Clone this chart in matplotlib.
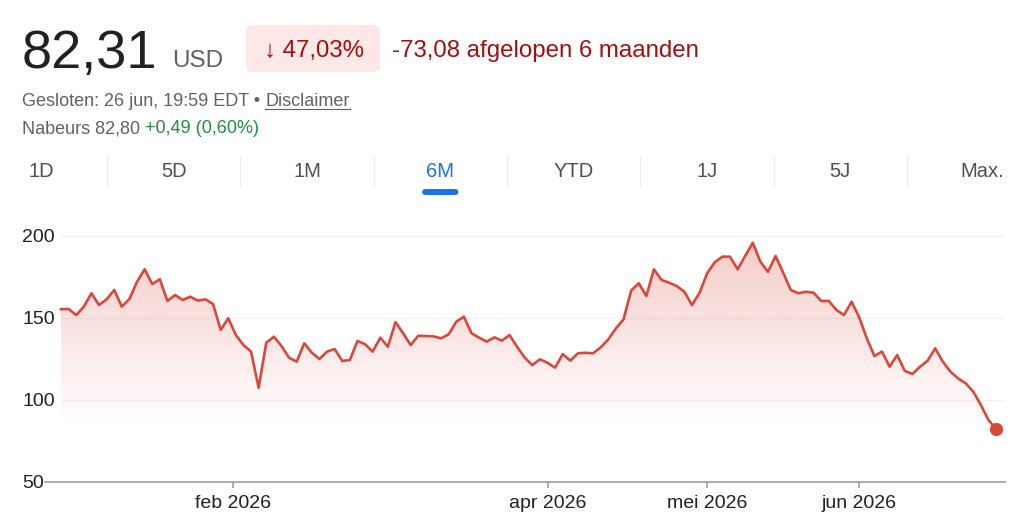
import numpy as np
import pandas as pd
import matplotlib
matplotlib.use("Agg")
import matplotlib.pyplot as plt
from matplotlib.patches import FancyBboxPatch

plt.rcParams['font.family'] = ['Liberation Sans', 'DejaVu Sans']

# koersdata, 6 maanden (handelsdagen)
holidays = ['2026-01-01', '2026-01-19', '2026-02-16', '2026-04-03', '2026-05-25', '2026-06-19']
dates = pd.bdate_range('2025-12-29', '2026-06-26', freq='C', holidays=holidays)
price = [155.4, 155.5, 151.8, 156.9, 165.1, 157.9, 161.4, 167.1, 156.9, 161.6,
         172.1, 179.7, 170.7, 173.6, 160.4, 164.0, 161.0, 163.0, 160.6, 161.4,
         158.5, 142.7, 149.8, 139.6, 133.5, 129.5, 107.5, 134.9, 138.6, 132.9,
         125.8, 123.4, 134.6, 128.8, 125.0, 129.5, 131.1, 123.8, 124.4, 136.0,
         134.0, 129.5, 138.0, 132.5, 147.5, 140.7, 133.5, 139.2, 139.0, 138.8,
         137.6, 140.1, 147.8, 150.8, 140.7, 138.0, 135.6, 138.2, 136.2, 139.6,
         132.5, 125.8, 121.3, 124.8, 122.7, 119.7, 128.0, 124.0, 128.5, 128.8,
         128.5, 132.1, 137.0, 143.7, 149.2, 166.7, 171.2, 163.4, 179.7, 173.2,
         171.5, 169.5, 166.0, 157.9, 165.4, 177.3, 184.0, 187.4, 187.4, 179.7,
         187.8, 195.9, 184.3, 178.2, 187.8, 177.6, 167.1, 165.1, 166.0, 165.4,
         160.4, 160.4, 154.9, 151.8, 159.9, 150.4, 137.6, 126.8, 129.5, 120.3,
         127.4, 117.7, 115.9, 120.3, 124.0, 131.5, 123.4, 117.3, 113.2, 110.2,
         105.1, 97.0, 87.8, 82.31]
month_ticks = ['2026-02-01', '2026-04-01', '2026-05-01', '2026-06-01']
month_labels = ['feb 2026', 'apr 2026', 'mei 2026', 'jun 2026']
y_ticks = [50, 100, 150, 200]
tabs = ['1D', '5D', '1M', '6M', 'YTD', '1J', '5J', 'Max.']
active_tab = '6M'

RED = '#d9483b'
W, H = 1024, 530


def px(x, y):  # pixel (van linksboven) -> figuurcoordinaten
    return x / W, 1 - y / H


fig = plt.figure(figsize=(W / 100, H / 100), dpi=100)
fig.patch.set_facecolor('white')

# ---- kop ----
fig.text(*px(22, 68), '82,31', fontsize=39, color='#202124', va='baseline')
fig.text(*px(172, 67), 'USD', fontsize=17.5, color='#5f6368', va='baseline')
box = FancyBboxPatch(px(246, 72), 134 / W, 47 / H, boxstyle='round,pad=0,rounding_size=0.009',
                     transform=fig.transFigure, facecolor='#fce8e6', edgecolor='none')
fig.patches.append(box)
fig.text(*px(314, 57), '\u2193 47,03%', fontsize=17.3, color='#a50e0e', va='baseline', ha='center')
fig.text(*px(392, 57), '-73,08 afgelopen 6 maanden', fontsize=17.3, color='#a50e0e', va='baseline')

renderer = fig.canvas.get_renderer()
t1 = fig.text(*px(22, 106), 'Gesloten: 26 jun, 19:59 EDT \u2022 ', fontsize=13, color='#5f6368', va='baseline')
bb = t1.get_window_extent(renderer)
t2 = fig.text(bb.x1 / W, 1 - 106 / H, 'Disclaimer', fontsize=13, color='#5f6368', va='baseline')
bb2 = t2.get_window_extent(renderer)
fig.add_artist(plt.Line2D([bb2.x0 / W, bb2.x1 / W], [1 - 109 / H, 1 - 109 / H],
                          color='#5f6368', lw=0.8, transform=fig.transFigure))
t3 = fig.text(*px(22, 133), 'Nabeurs 82,80 ', fontsize=13, color='#5f6368', va='baseline')
bb3 = t3.get_window_extent(renderer)
fig.text(bb3.x1 / W, 1 - 133 / H, '+0,49 (0,60%)', fontsize=13, color='#1e8e3e', va='baseline')

# ---- tabs ----
seps = [107 + 133.3 * i for i in range(len(tabs) - 1)]
for s in seps:
    fig.add_artist(plt.Line2D([s / W, s / W], [1 - 156 / H, 1 - 186 / H],
                              color='#ececec', lw=0.9, transform=fig.transFigure))
for i, name in enumerate(tabs):
    col = '#1a73e8' if name == active_tab else '#4d5156'
    if i == 0:
        fig.text(*px(28, 172), name, fontsize=14.5, color=col, va='center', ha='left')
    elif i == len(tabs) - 1:
        fig.text(*px(1004, 172), name, fontsize=14.5, color=col, va='center', ha='right')
    else:
        cx = (seps[i - 1] + seps[i]) / 2
        fig.text(*px(cx, 172), name, fontsize=14.5, color=col, va='center', ha='center')
        if name == active_tab:
            ul = FancyBboxPatch(px(cx - 18, 195), 36 / W, 6 / H,
                                boxstyle='round,pad=0,rounding_size=0.004',
                                transform=fig.transFigure, facecolor='#1a73e8', edgecolor='none')
            fig.patches.append(ul)

# ---- grafiek ----
idx = np.arange(len(price))
ax = fig.add_axes([45 / W, 48 / H, 960 / W, 254.2 / H])
ax.set_xlim(-2.105, 124.18)
ax.set_ylim(50, 205)

ax.hlines(y_ticks[1:], idx[0], 124.18, color='#f1f1f1', lw=1, zorder=0.5)

poly = ax.fill_between(idx, price, 50, facecolor='none', edgecolor='none')
yv = np.linspace(50, 205, 300)
alpha = 0.28 * np.clip((yv - 85) / (196 - 85), 0, 1)
img = np.zeros((300, 1, 4))
img[..., :3] = matplotlib.colors.to_rgb(RED)
img[:, 0, 3] = alpha
im = ax.imshow(img, extent=[idx[0], idx[-1], 50, 205], origin='lower', aspect='auto', zorder=1)
im.set_clip_path(poly.get_paths()[0], transform=ax.transData)

ax.plot(idx, price, color=RED, lw=1.9, zorder=3)
ax.plot(idx[-1], price[-1], 'o', ms=8.5, color=RED, zorder=4)

for s in ['top', 'right', 'left']:
    ax.spines[s].set_visible(False)
ax.spines['bottom'].set_color('#9e9e9e')
ax.spines['bottom'].set_linewidth(1.2)

ax.set_yticks(y_ticks)
ax.set_yticklabels([str(v) for v in y_ticks])
ax.tick_params(axis='y', length=0, pad=16.5, labelsize=14, labelcolor='#202124')
for lbl in ax.get_yticklabels():
    lbl.set_horizontalalignment('left')

date_ord = dates.map(pd.Timestamp.toordinal).values
tick_pos = np.interp(pd.to_datetime(month_ticks).map(pd.Timestamp.toordinal).values, date_ord, idx)
ax.set_xticks(tick_pos)
ax.set_xticklabels(month_labels)
ax.tick_params(axis='x', length=4.5, width=1.2, color='#9e9e9e', pad=5, labelsize=14,
               labelcolor='#202124')

fig.savefig('out.png', dpi=100)
